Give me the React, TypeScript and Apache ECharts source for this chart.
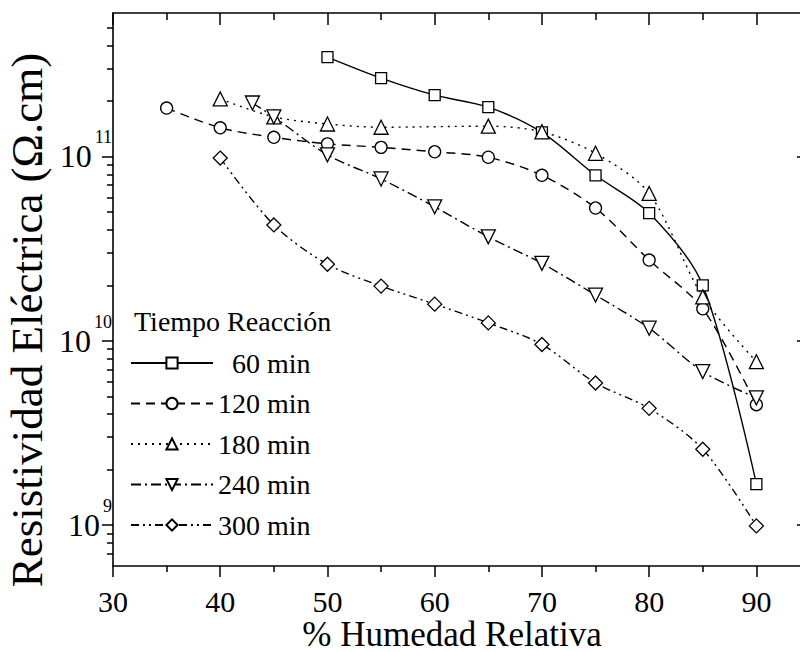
import React, { useEffect, useRef } from "react";
import * as echarts from "echarts";

const FONT = "Liberation Serif";

const h60 = [50, 55, 60, 65, 70, 75, 80, 85, 90];
const r60 = [3.46e11, 2.66e11, 2.15e11, 1.85e11, 1.35e11, 7.9e10, 4.93e10, 2.0e10, 1.67e9];

const h120 = [35, 40, 45, 50, 55, 60, 65, 70, 75, 80, 85, 90];
const r120 = [1.83e11, 1.43e11, 1.27e11, 1.17e11, 1.12e11, 1.06e11, 9.9e10, 7.9e10, 5.25e10, 2.74e10, 1.49e10, 4.5e9];

const h180 = [40, 45, 50, 55, 65, 70, 75, 80, 85, 90];
const r180 = [2.05e11, 1.64e11, 1.5e11, 1.44e11, 1.46e11, 1.36e11, 1.04e11, 6.3e10, 1.73e10, 7.7e9];

const h240 = [43, 45, 50, 55, 60, 65, 70, 75, 80, 85, 90];
const r240 = [1.95e11, 1.64e11, 1.02e11, 7.55e10, 5.33e10, 3.66e10, 2.63e10, 1.77e10, 1.17e10, 6.8e9, 4.9e9];

const h300 = [40, 45, 50, 55, 60, 65, 70, 75, 80, 85, 90];
const r300 = [9.8e10, 4.25e10, 2.6e10, 1.98e10, 1.58e10, 1.25e10, 9.55e9, 5.9e9, 4.3e9, 2.58e9, 9.9e8];

const seriesNames = ["60 min", "120 min", "180 min", "240 min", "300 min"];
const majorDecades = [9, 10, 11];
const minorMultipliers = [2, 3, 4, 5, 6, 7, 8, 9];
const yMin = 6e8;
const yMax = 6e11;

export default function App() {
  const ref = useRef<HTMLDivElement>(null);
  useEffect(() => {
    if (!ref.current) return;
    const chart = echarts.init(ref.current, null, { renderer: "svg" });
    const lMin = Math.log10(yMin);
    const lMax = Math.log10(yMax);
    const minors: number[] = [];
    for (let d = 8; d <= 11; d++) {
      for (const m of minorMultipliers) {
        const v = Math.log10(m) + d;
        if (v > lMin + 1e-6 && v < lMax - 1e-6) minors.push(v);
      }
    }
    const mk = (
      name: string,
      xs: number[],
      ys: number[],
      symbol: string,
      size: number,
      dash: number[] | string,
      rotate = 0
    ) => ({
      name,
      type: "line",
      xAxisIndex: 0,
      yAxisIndex: 0,
      data: xs.map((x, i) => [x, ys[i]]),
      symbol,
      symbolSize: size,
      symbolRotate: rotate,
      showSymbol: true,
      smooth: 0.3,
      itemStyle: { color: "#fff", borderColor: "#000", borderWidth: 1.3 },
      lineStyle: { color: "#000", width: 1.4, type: dash },
      emphasis: { disabled: true },
    });
    const axisLineStyle = { lineStyle: { color: "#000", width: 1.6 } };
    chart.setOption({
      animation: false,
      backgroundColor: "#fff",
      textStyle: { fontFamily: FONT },
      title: {
        text: "Tiempo Reacción",
        left: 134,
        top: 306,
        padding: 0,
        textStyle: { fontFamily: FONT, fontSize: 28, fontWeight: "normal", color: "#000", lineHeight: 30 },
      },
      legend: {
        orient: "vertical",
        left: 130,
        top: 349,
        padding: 0,
        itemWidth: 82,
        itemHeight: 14,
        itemGap: 12.5,
        textStyle: { fontFamily: FONT, fontSize: 28, color: "#000", lineHeight: 28 },
        data: seriesNames.map((n, i) =>
          i === 0 ? { name: n, textStyle: { padding: [0, 0, 0, 14] } } : { name: n }
        ),
      },
      grid: { left: 113, top: 13, width: 697, height: 553, containLabel: false, outerBoundsMode: "none" },
      xAxis: [
        {
          type: "value",
          min: 30,
          max: 95,
          interval: 10,
          position: "bottom",
          axisLine: axisLineStyle,
          axisTick: { show: true, inside: false, length: 11, lineStyle: { color: "#000", width: 1.5 } },
          minorTick: { show: true, splitNumber: 2, length: 6, lineStyle: { color: "#000", width: 1.5 } },
          axisLabel: { fontFamily: FONT, fontSize: 30, color: "#000", margin: 20, showMaxLabel: false },
          splitLine: { show: false },
        },
        {
          type: "value",
          min: 30,
          max: 95,
          interval: 10,
          position: "top",
          axisLine: axisLineStyle,
          axisTick: { show: true, inside: true, length: 12, lineStyle: { color: "#000", width: 1.5 } },
          minorTick: { show: true, splitNumber: 2, length: 7, lineStyle: { color: "#000", width: 1.5 } },
          axisLabel: { show: false },
          splitLine: { show: false },
        },
      ],
      yAxis: [
        {
          type: "log",
          logBase: 10,
          min: yMin,
          max: yMax,
          position: "left",
          offset: 0,
          axisLine: axisLineStyle,
          axisTick: { show: false },
          axisLabel: { show: false },
          splitLine: { show: false },
          minorTick: { show: false },
        },
        {
          type: "value",
          min: lMin,
          max: lMax,
          position: "left",
          offset: 0,
          axisLine: { show: false },
          axisTick: { show: true, customValues: majorDecades, length: 11, lineStyle: { color: "#000", width: 1.5 } },
          axisLabel: {
            show: true,
            customValues: majorDecades,
            margin: 1,
            formatter: (v: number) => `{b|10}{e|${Math.round(v)}}`,
            rich: {
              b: { fontFamily: FONT, fontSize: 32, color: "#000", lineHeight: 56 },
              e: { fontFamily: FONT, fontSize: 18, color: "#000", lineHeight: 18, verticalAlign: "top", padding: [0, 0, 0, 3] },
            },
          },
          splitLine: { show: false },
        },
        {
          type: "value",
          min: lMin,
          max: lMax,
          position: "left",
          offset: 0,
          axisLine: { show: false },
          axisTick: { show: true, customValues: minors, length: 6, lineStyle: { color: "#000", width: 1.5 } },
          axisLabel: { show: false },
          splitLine: { show: false },
        },
        {
          type: "value",
          min: lMin,
          max: lMax,
          position: "right",
          offset: 0,
          axisLine: axisLineStyle,
          axisTick: { show: true, inside: true, customValues: majorDecades, length: 13, lineStyle: { color: "#000", width: 1.5 } },
          axisLabel: { show: false },
          splitLine: { show: false },
        },
      ],
      graphic: [
        {
          type: "text",
          x: 27,
          y: 320,
          rotation: Math.PI / 2,
          style: {
            text: "Resistividad Eléctrica (Ω.cm)",
            fontFamily: FONT,
            fontSize: 45,
            fill: "#000",
            align: "center",
            verticalAlign: "middle",
          },
        },
        {
          type: "text",
          x: 452,
          y: 634,
          style: {
            text: "% Humedad Relativa",
            fontFamily: FONT,
            fontSize: 35,
            fill: "#000",
            align: "center",
            verticalAlign: "middle",
          },
        },
      ],
      series: [
        mk(seriesNames[0], h60, r60, "rect", 11, "solid"),
        mk(seriesNames[1], h120, r120, "circle", 12, [9, 6]),
        mk(seriesNames[2], h180, r180, "triangle", 14, [2, 5]),
        mk(seriesNames[3], h240, r240, "triangle", 14, [10, 4, 2, 4], 180),
        mk(seriesNames[4], h300, r300, "diamond", 14, [8, 4, 2, 4, 2, 4]),
      ],
    });
    return () => chart.dispose();
  }, []);
  return (
    <div
      ref={ref}
      style={{ position: "fixed", left: 0, top: 0, width: 800, height: 652, background: "#fff" }}
    />
  );
}
